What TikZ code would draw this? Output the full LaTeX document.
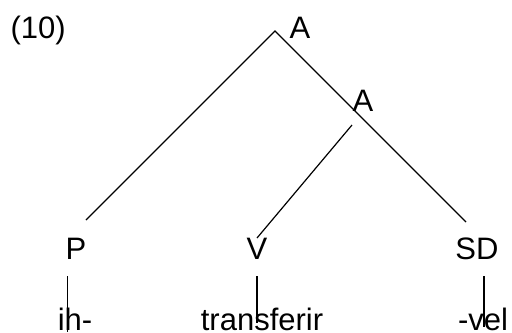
\documentclass[tikz,border=0pt]{standalone}
\usepackage{fontspec}
\setmainfont{Liberation Sans}
\usetikzlibrary{positioning}

\begin{document}
\begin{tikzpicture}[x=1bp,y=-1bp,line width=1.2bp,
    lab/.style={anchor=base,inner sep=0pt,font=\fontsize{31bp}{36bp}\selectfont}]
    \useasboundingbox (0,0) rectangle (512,332);
    % labels
    \node[lab,anchor=base west] (num) at (10,38) {(10)};
    \node[lab,anchor=base west] (a1) at (289,38) {A};
    \node[lab,anchor=base west] (a2) at (352,111) {A};
    \node[lab] (p) at (76,259) {P};
    \node[lab] (v) at (257,259) {V};
    \node[lab] (sd) at (477,259) {SD};
    \node[lab] (ih) at (75,330) {ih-};
    \node[lab] (tr) at (262,330) {transferir};
    \node[lab] (vel) at (483,330) {-vel};
    % branch ends
    \coordinate (apex) at (275,31);
    \coordinate (p-up) at (86,220);
    \coordinate (sd-up) at (466,222);
    \coordinate (a2-foot) at (352,125);
    \coordinate (v-up) at (257,238);
    \coordinate (p-dn) at (67.3,276);
    \coordinate (ih-up) at (67.3,332);
    \coordinate (v-dn) at (257,276);
    \coordinate (tr-up) at (257,323);
    \coordinate (sd-dn) at (484,276);
    \coordinate (vel-up) at (484,327);
    \draw (p-up) -- (apex) -- (sd-up);
    \draw (a2-foot) -- (v-up);
    \draw (p-dn) -- (ih-up);
    \draw (v-dn) -- (tr-up);
    \draw (sd-dn) -- (vel-up);
\end{tikzpicture}
\end{document}
